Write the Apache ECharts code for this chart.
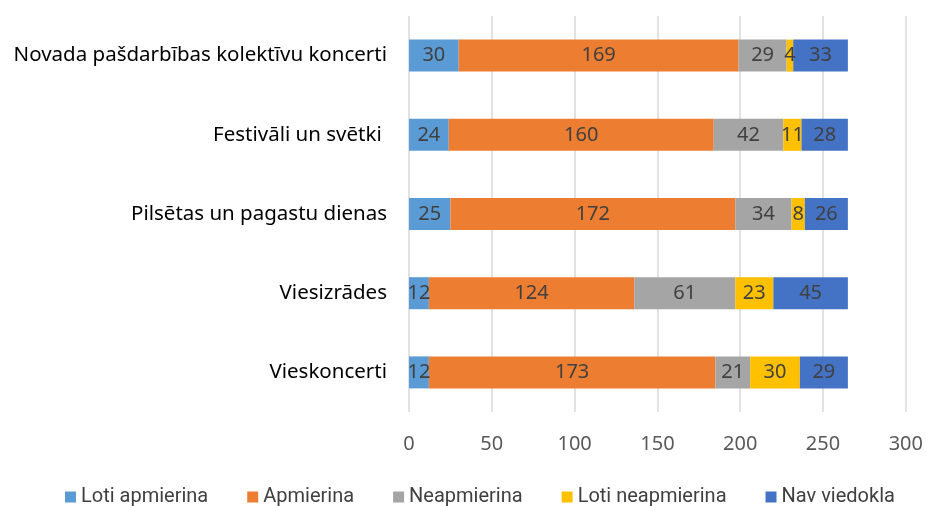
<!DOCTYPE html>
<html>
<head>
<meta charset="utf-8">
<script src="https://cdn.jsdelivr.net/npm/echarts@6/dist/echarts.min.js"></script>
<style>
  html, body { margin: 0; padding: 0; background: #fff; }
  #chart { width: 926px; height: 506px; }
</style>
</head>
<body>
<div id="chart"></div>
<script>
// categories, bottom to top as the axis draws them
const categories = [
  'Vieskoncerti',
  'Viesizrādes',
  'Pilsētas un pagastu dienas',
  'Festivāli un svētki ',
  'Novada pašdarbības kolektīvu koncerti'
]
const seriesNames = ['Loti apmierina', 'Apmierina', 'Neapmierina', 'Loti neapmierina', 'Nav viedokla']
const lotiApmierina = [12, 12, 25, 24, 30]
const apmierina = [173, 124, 172, 160, 169]
const neapmierina = [21, 61, 34, 42, 29]
const lotiNeapmierina = [30, 23, 8, 11, 4]
const navViedokla = [29, 45, 26, 28, 33]
const xTicks = [0, 50, 100, 150, 200, 250, 300]

const colors = ['#5B9BD5', '#ED7D31', '#A5A5A5', '#FFC000', '#4472C4']
const values = [lotiApmierina, apmierina, neapmierina, lotiNeapmierina, navViedokla]

const font = '"Noto Sans", "DejaVu Sans", sans-serif'

let chart = echarts.init(document.getElementById('chart'))
chart.setOption({
  animation: false,
  color: colors,
  grid: {
    left: 409,
    right: 20,
    top: 16,
    bottom: 94
  },
  legend: {
    top: 482,
    left: 60,
    itemWidth: 11,
    itemHeight: 11,
    itemGap: 39,
    icon: 'rect',
    textStyle: {
      fontFamily: '"Liberation Sans Narrow", "Roboto", sans-serif',
      fontSize: 20,
      color: '#404040'
    },
    data: seriesNames
  },
  xAxis: {
    type: 'value',
    min: xTicks[0],
    max: xTicks[xTicks.length - 1],
    interval: 50,
    axisLine: { show: false },
    axisTick: { show: false },
    axisLabel: {
      margin: 22,
      fontFamily: font,
      fontSize: 20,
      color: '#595959'
    },
    splitLine: {
      lineStyle: { color: '#d9d9d9', width: 1.5 }
    }
  },
  yAxis: {
    type: 'category',
    data: categories,
    axisLine: { show: false },
    axisTick: { show: false },
    axisLabel: {
      margin: 22,
      fontFamily: font,
      fontSize: 20.5,
      color: '#000'
    }
  },
  series: seriesNames.map((name, i) => ({
    name: name,
    type: 'bar',
    stack: 'total',
    barWidth: 32,
    data: values[i],
    label: {
      show: true,
      position: 'inside',
      fontFamily: font,
      fontSize: 20,
      color: '#404040'
    }
  }))
})
</script>
</body>
</html>
